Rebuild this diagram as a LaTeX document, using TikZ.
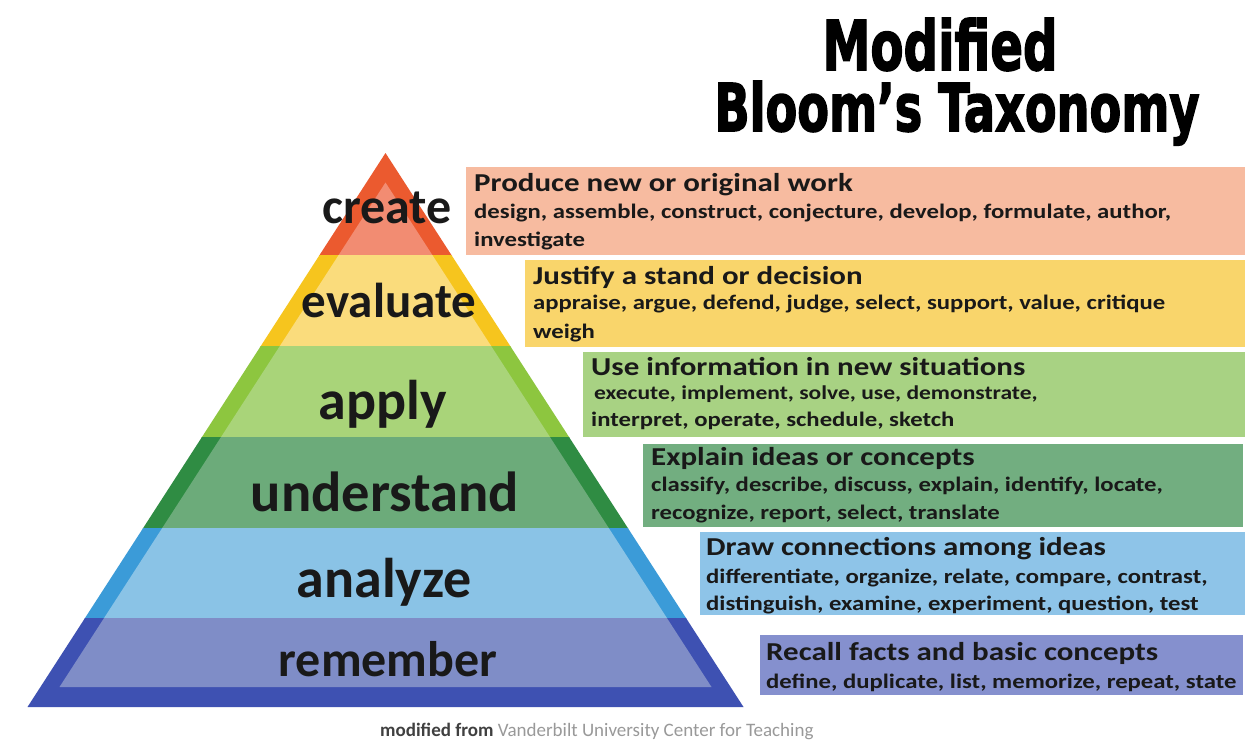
\documentclass[tikz,border=0pt]{standalone}
\usepackage{fontspec}
\usepackage{graphicx}
\setmainfont{Carlito}
\newfontfamily\boxfont[FakeStretch=1.2]{Carlito}
\newfontfamily\titlefont[FakeBold=2.6]{DejaVu Sans}

\definecolor{createdark}{HTML}{EB5A2F}
\definecolor{createlight}{HTML}{F28C72}
\definecolor{createbox}{HTML}{F7BBA0}
\definecolor{evaldark}{HTML}{F6C51E}
\definecolor{evallight}{HTML}{FADC7C}
\definecolor{evalbox}{HTML}{F9D56B}
\definecolor{applydark}{HTML}{8DC63F}
\definecolor{applylight}{HTML}{A9D479}
\definecolor{applybox}{HTML}{A8D283}
\definecolor{underdark}{HTML}{2F8C43}
\definecolor{underlight}{HTML}{6CAB7A}
\definecolor{underbox}{HTML}{72AE80}
\definecolor{analydark}{HTML}{3B9BD8}
\definecolor{analylight}{HTML}{8AC3E6}
\definecolor{analybox}{HTML}{8EC4E8}
\definecolor{rememdark}{HTML}{3E51B2}
\definecolor{rememlight}{HTML}{7F8DC7}
\definecolor{remembox}{HTML}{8590CE}

\tikzset{
  level/.style={font=\fontsize{#1}{#1}\selectfont\bfseries, text=black!90, inner sep=0, anchor=base},
  level/.default=50,
  head/.style={font=\boxfont\bfseries\fontsize{25.8}{27}\selectfont, text=black!90, inner sep=0, anchor=base west},
  verbs/.style={font=\boxfont\bfseries\fontsize{#1}{22}\selectfont, text=black!90, inner sep=0, anchor=base west},
  verbs/.default=20.6,
}

\begin{document}
\begin{tikzpicture}[x=1pt,y=-1pt]
	\fill[white] (0,0) rectangle (1245,739);
	\useasboundingbox (0,0) rectangle (1245,739);
	% outer and inner triangle of the pyramid
	\coordinate (A) at (385.5,153);
	\coordinate (B) at (27.5,707);
	\coordinate (C) at (743.5,707);
	\coordinate (iA) at (385.5,182.5);
	\coordinate (iB) at (59.5,687);
	\coordinate (iC) at (711.5,687);
	\foreach \top/\bot/\c in {140/255/create, 255/346/eval, 346/437/apply, 437/528/under, 528/618/analy, 618/720/remem}
	{
		\begin{scope}
			\clip (0,\top) rectangle (1245,\bot);
			\fill[\c dark] (A) -- (B) -- (C) -- cycle;
			\fill[\c light] (iA) -- (iB) -- (iC) -- cycle;
		\end{scope}
	}
	\node[level=50] (create) at (387,223) {create};
	\node[level=49] (evaluate) at (389,317) {evaluate};
	\node[level=56] (apply) at (383,419) {apply};
	\node[level=56.5] (understand) at (385,511) {understand};
	\node[level=56] (analyze) at (384,597) {analyze};
	\node[level=50] (remember) at (388,676) {remember};

	% boxes on the right
	\fill[createbox] (466,167) rectangle (1245,255);
	\fill[evalbox] (525,260) rectangle (1245,347);
	\fill[applybox] (583,352) rectangle (1245,437);
	\fill[underbox] (643,444) rectangle (1243,527);
	\fill[analybox] (700,532) rectangle (1245,615);
	\fill[remembox] (760,635) rectangle (1243,695);

	\node[head] (createhead) at (474,191) {Produce new or original work};
	\node[verbs] (createverbs1) at (474,218) {design, assemble, construct, conjecture, develop, formulate, author,};
	\node[verbs] (createverbs2) at (474,246) {investigate};

	\node[head] (evalhead) at (533,284) {Justify a stand or decision};
	\node[verbs] (evalverbs1) at (533,309) {appraise, argue, defend, judge, select, support, value, critique};
	\node[verbs] (evalverbs2) at (533,338) {weigh};

	\node[head] (applyhead) at (591,375) {Use information in new situations};
	\node[verbs=19.6] (applyverbs1) at (594,399) {execute, implement, solve, use, demonstrate,};
	\node[verbs] (applyverbs2) at (591,426) {interpret, operate, schedule, sketch};

	\node[head] (underhead) at (651,465) {Explain ideas or concepts};
	\node[verbs] (underverbs1) at (651,491) {classify, describe, discuss, explain, identify, locate,};
	\node[verbs] (underverbs2) at (651,519) {recognize, report, select, translate};

	\node[head] (analyhead) at (706,555) {Draw connections among ideas};
	\node[verbs] (analyverbs1) at (706,583) {differentiate, organize, relate, compare, contrast,};
	\node[verbs] (analyverbs2) at (706,610) {distinguish, examine, experiment, question, test};

	\node[head] (rememhead) at (766,660) {Recall facts and basic concepts};
	\node[verbs] (rememverbs) at (766,688) {define, duplicate, list, memorize, repeat, state};

	% title and credit line
	\node[anchor=base, inner sep=0] (title1) at (940,70) {\resizebox{235pt}{52pt}{\titlefont\bfseries Modified}};
	\node[anchor=base, inner sep=0] (title2) at (957,131) {\resizebox{485pt}{50pt}{\titlefont\bfseries Bloom’s Taxonomy}};
	\node[anchor=base west, inner sep=0, font=\fontsize{19}{21}\selectfont] (credit) at (380,736)
		{\textcolor{black!75}{\bfseries modified from} \textcolor{black!40}{Vanderbilt University Center for Teaching}};
\end{tikzpicture}
\end{document}
